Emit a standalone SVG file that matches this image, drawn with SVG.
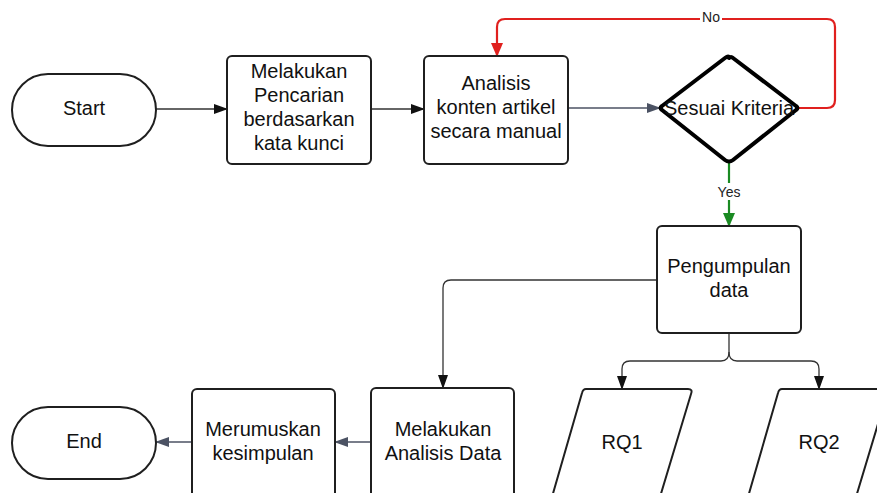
<svg xmlns="http://www.w3.org/2000/svg" width="877" height="493" viewBox="0 0 877 493">
<style>
.n{fill:#fff;stroke:#1f1f1f;stroke-width:2}
.t{font-family:"Liberation Sans",Arial,sans-serif;font-size:20px;fill:#111;text-anchor:middle}
.l{font-family:"Liberation Sans",Arial,sans-serif;font-size:14px;fill:#222;text-anchor:middle}
.c{fill:none;stroke:#333;stroke-width:1.3}
.g{fill:none;stroke:#4b5263;stroke-width:1.3}
</style>
<defs>
<marker id="ab" markerWidth="14" markerHeight="10" refX="13" refY="5" orient="auto" markerUnits="userSpaceOnUse"><path d="M0,0 L14,5 L0,10 Z" fill="#111"/></marker>
<marker id="ag" markerWidth="14" markerHeight="10" refX="13" refY="5" orient="auto" markerUnits="userSpaceOnUse"><path d="M0,0 L14,5 L0,10 Z" fill="#4b5263"/></marker>
<marker id="ar" markerWidth="14" markerHeight="12" refX="13" refY="6" orient="auto" markerUnits="userSpaceOnUse"><path d="M0,0 L14,6 L0,12 Z" fill="#e0201e"/></marker>
<marker id="agr" markerWidth="14" markerHeight="12" refX="13" refY="6" orient="auto" markerUnits="userSpaceOnUse"><path d="M0,0 L14,6 L0,12 Z" fill="#1a8a22"/></marker>
</defs>
<rect width="877" height="493" fill="#fff"/>
<g id="connectors">
<path class="c" d="M156,109 H227" marker-end="url(#ab)"/>
<path class="c" d="M371,109 H424" marker-end="url(#ab)"/>
<path class="g" d="M568,108 H660" marker-end="url(#ag)"/>
<path d="M798,108 H827 Q835,108 835,100 V27 Q835,19 827,19 H505 Q497,19 497,27 V56" fill="none" stroke="#e0201e" stroke-width="2.2" marker-end="url(#ar)"/>
<rect x="700" y="10" width="22" height="15" fill="#fff"/>
<text class="l" x="711" y="22">No</text>
<path d="M729,161 V226" fill="none" stroke="#1a8a22" stroke-width="2.2" marker-end="url(#agr)"/>
<rect x="713" y="183" width="32" height="17" fill="#fff"/>
<text class="l" x="729" y="197">Yes</text>
<path class="c" d="M657,280 H451 Q443,280 443,288 V388" marker-end="url(#ab)"/>
<path class="c" d="M729,333 V352 Q729,361 721,361 H630 Q622,361 622,369 V389" marker-end="url(#ab)"/>
<path class="c" d="M729,352 Q729,361 737,361 H811 Q819,361 819,369 V389" marker-end="url(#ab)"/>
<path class="g" d="M371,442 H335" marker-end="url(#ag)"/>
<path class="g" d="M192,442 H156" marker-end="url(#ag)"/>
</g>
<g id="start">
<rect class="n" x="12" y="74" width="144" height="72" rx="36"/>
<text class="t" x="84" y="115">Start</text>
</g>
<g id="pencarian">
<rect class="n" x="227" y="56" width="144" height="108" rx="5"/>
<text class="t" x="299" y="78">Melakukan</text>
<text class="t" x="299" y="102">Pencarian</text>
<text class="t" x="299" y="126">berdasarkan</text>
<text class="t" x="299" y="150">kata kunci</text>
</g>
<g id="analisis">
<rect class="n" x="424" y="56" width="144" height="108" rx="5"/>
<text class="t" x="496" y="90">Analisis</text>
<text class="t" x="496" y="114">konten artikel</text>
<text class="t" x="496" y="138">secara manual</text>
</g>
<g id="kriteria">
<path d="M729,58 Q731,56 733,58 L796,106 Q799,108 796,110 L733,160 Q729,163 725,160 L662,110 Q659,108 662,106 L725,58 Q729,55 729,58 Z" fill="#fff" stroke="#000" stroke-width="4" stroke-linejoin="round"/>
<text class="t" x="729" y="115">Sesuai Kriteria</text>
</g>
<g id="pengumpulan">
<rect class="n" x="657" y="226" width="144" height="107" rx="5"/>
<text class="t" x="729" y="273">Pengumpulan</text>
<text class="t" x="729" y="297">data</text>
</g>
<g id="rq1">
<path class="n" d="M586,389 H688 Q693,389 691,394 L660,497 H552 L582,393 Q583,389 586,389 Z"/>
<text class="t" x="622" y="449">RQ1</text>
</g>
<g id="rq2">
<path class="n" d="M782,389 H884 Q889,389 887,394 L856,497 H748 L778,393 Q779,389 782,389 Z"/>
<text class="t" x="819" y="449">RQ2</text>
</g>
<g id="analisisdata">
<rect class="n" x="371" y="388" width="143" height="112" rx="5"/>
<text class="t" x="443" y="436">Melakukan</text>
<text class="t" x="443" y="460">Analisis Data</text>
</g>
<g id="kesimpulan">
<rect class="n" x="192" y="389" width="143" height="112" rx="5"/>
<text class="t" x="263" y="436">Merumuskan</text>
<text class="t" x="263" y="460">kesimpulan</text>
</g>
<g id="end">
<rect class="n" x="12" y="407" width="144" height="72" rx="36"/>
<text class="t" x="84" y="448">End</text>
</g>
</svg>
